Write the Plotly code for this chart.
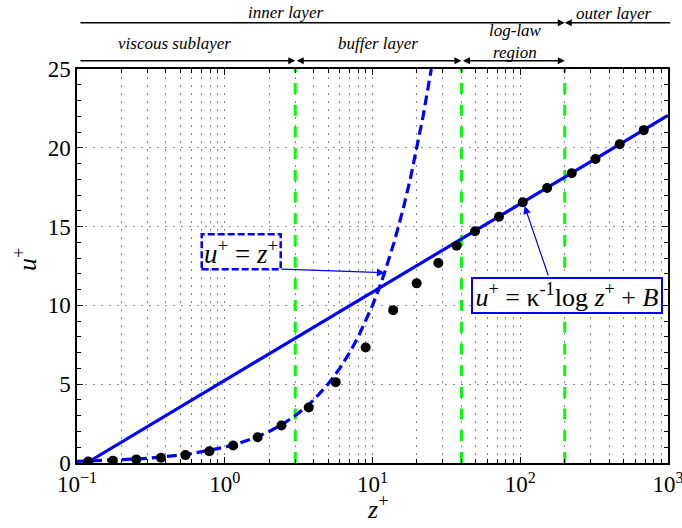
import math
import plotly.graph_objects as go

# ---------------------------------------------------------------------
# Data (wall units)
# ---------------------------------------------------------------------
# measured mean-velocity profile
z_plus = [0.119, 0.175, 0.252, 0.370, 0.542, 0.787, 1.14, 1.67, 2.42,
          3.70, 5.63, 8.99, 13.8, 19.9, 27.9, 37.1, 49.4, 71.8,
          104, 152, 223, 323, 471, 685]
u_plus = [0.09, 0.15, 0.23, 0.33, 0.50, 0.75, 1.11, 1.63, 2.38,
          3.52, 5.13, 7.33, 9.70, 11.40, 12.69, 13.79, 14.70, 15.63,
          16.54, 17.45, 18.39, 19.29, 20.23, 21.12]

# viscous sublayer law u+ = z+ (identical values on both axes)
z_visc = [0.1, 0.13, 0.16, 0.2, 0.25, 0.3, 0.4, 0.5, 0.6, 0.8, 1.0, 1.25,
          1.6, 2.0, 2.5, 3.0, 3.5, 4.0, 5.0, 6.0, 7.0, 8.0, 9.0, 10.0,
          11.0, 12.0, 14.0, 16.0, 18.0, 20.0, 22.0, 25.0]

# log law u+ = (1/kappa) log z+ + B : a straight line on the log axis
z_log = [0.116, 1000]
u_log = [0.0, 22.05]

# boundaries between the near-wall regions
z_bounds = [3, 40, 200]

# axis ticks
x_tickvals = [0.1, 1, 10, 100, 1000]
x_ticktext = ["10<sup>−1</sup>", "10<sup>0</sup>", "10<sup>1</sup>",
              "10<sup>2</sup>", "10<sup>3</sup>"]
y_tickvals = [0, 5, 10, 15, 20, 25]

X_RANGE = [-1, 3]      # log10 of z+
Y_RANGE = [0, 25]

# minor ticks at 2..9 within each decade
x_minor = [k * 10.0 ** e for e in range(X_RANGE[0], X_RANGE[1])
           for k in range(2, 10)]

# ---------------------------------------------------------------------
# Page geometry
# ---------------------------------------------------------------------
W, H = 682, 528
ML, MR, MT, MB = 77, 14, 69, 65
PW, PH = W - ML - MR, H - MT - MB

SERIF = "Liberation Serif, Times New Roman, Times, serif"
BLUE = "#0000ff"
GREEN = "#00ff00"


def px_x(px):
    """page pixel column -> paper x"""
    return (px - ML) / PW


def px_y(py):
    """page pixel row -> paper y"""
    return (MT + PH - py) / PH


def zx(z):
    """z+ value -> paper x on the log axis"""
    return (math.log10(z) - X_RANGE[0]) / (X_RANGE[1] - X_RANGE[0])


fig = go.Figure()

# region boundaries
for zb in z_bounds:
    fig.add_trace(go.Scatter(
        x=[zb, zb], y=Y_RANGE, mode="lines",
        line=dict(color=GREEN, width=3, dash="11px,10.7px"),
        hoverinfo="skip", showlegend=False))

# viscous sublayer law
fig.add_trace(go.Scatter(
    x=z_visc, y=z_visc, mode="lines",
    line=dict(color=BLUE, width=3.2, dash="10px,5px"),
    showlegend=False))

# log law
fig.add_trace(go.Scatter(
    x=z_log, y=u_log, mode="lines",
    line=dict(color=BLUE, width=3.2),
    showlegend=False))

# measured profile
fig.add_trace(go.Scatter(
    x=z_plus, y=u_plus, mode="markers",
    marker=dict(color="black", size=10),
    showlegend=False))

annotations = []
shapes = []

# ---- region arrows above the axes ----------------------------------
row1 = px_y(22.7)
row2 = px_y(60.7)
x_left = px_x(79)
x_right = px_x(671.7)


def harrow(x_tip, x_tail, y, both=False):
    annotations.append(dict(
        xref="paper", yref="paper", x=x_tip, y=y,
        axref="pixel", ayref="pixel", ax=(x_tail - x_tip) * PW, ay=0,
        text="", showarrow=True,
        arrowhead=2, arrowsize=1.0, arrowwidth=1.4, arrowcolor="black",
        arrowside="end+start" if both else "end",
        startarrowhead=2, startarrowsize=1.0, standoff=0, startstandoff=0))


b1, b2, b3 = (zx(z) for z in z_bounds)
harrow(b3, x_left, row1)
harrow(b3, x_right, row1)
harrow(b1, x_left, row2)
harrow(b2, b1, row2, both=True)
harrow(b3, b2, row2, both=True)


def label(text, x, y, size=17):
    annotations.append(dict(
        xref="paper", yref="paper", x=x, y=y, text=text, showarrow=False,
        xanchor="center", yanchor="middle",
        font=dict(family=SERIF, size=size, color="black")))


label("<i>inner layer</i>", px_x(285.5), px_y(12.5))
label("<i>outer layer</i>", px_x(613.5), px_y(13))
label("<i>viscous sublayer</i>", px_x(174), px_y(44))
label("<i>buffer layer</i>", px_x(378), px_y(44))
label("<i>log-law</i><br><i>region</i>", px_x(515), px_y(41.5))

# ---- axis titles ----------------------------------------------------
label("<i>z</i><sup>+</sup>", px_x(377), px_y(507), size=26)
annotations.append(dict(
    xref="paper", yref="paper", x=px_x(25), y=px_y(260),
    text="<i>u</i><sup>+</sup>", showarrow=False, textangle=-90,
    xanchor="center", yanchor="middle",
    font=dict(family=SERIF, size=26, color="black")))

# ---- u+ = z+ callout -------------------------------------------------
shapes.append(dict(
    type="rect", xref="paper", yref="paper", layer="above",
    x0=px_x(201.7), x1=px_x(280.7), y0=px_y(269.3), y1=px_y(234.3),
    line=dict(color=BLUE, width=2.5, dash="7px,3px"), fillcolor="white"))
annotations.append(dict(
    xref="paper", yref="paper", x=px_x(241.2), y=px_y(252),
    text="<i>u</i><sup>+</sup> = <i>z</i><sup>+</sup>", showarrow=False,
    xanchor="center", yanchor="middle",
    font=dict(family=SERIF, size=27, color="black")))
annotations.append(dict(
    xref="x", yref="y", x=math.log10(12.1), y=12.07,
    axref="x", ayref="y", ax=math.log10(2.36), ay=12.3,
    text="", showarrow=True, arrowhead=2, arrowsize=1.3, arrowwidth=1.2,
    arrowcolor=BLUE, standoff=0))

# ---- log-law callout -------------------------------------------------
annotations.append(dict(
    xref="paper", yref="paper", x=px_x(566.9), y=px_y(295.7),
    text="<i>u</i><sup>+</sup> = κ<sup>-1</sup>log <i>z</i><sup>+</sup> + <i>B</i>",
    showarrow=False, xanchor="center", yanchor="middle",
    width=186, height=31, borderpad=1, borderwidth=2, bordercolor=BLUE,
    bgcolor="white", font=dict(family=SERIF, size=26, color="black")))
annotations.append(dict(
    xref="x", yref="y", x=math.log10(107), y=16.3,
    axref="x", ayref="y", ax=math.log10(156), ay=11.8,
    text="", showarrow=True, arrowhead=2, arrowsize=1.3, arrowwidth=1.2,
    arrowcolor=BLUE, standoff=0))

GRID = dict(gridcolor="#8a8a8a", gridwidth=1, griddash="2px,6px")

fig.update_layout(
    width=W, height=H,
    margin=dict(l=ML, r=MR, t=MT, b=MB, autoexpand=False),
    paper_bgcolor="white", plot_bgcolor="white",
    font=dict(family=SERIF, size=23, color="black"),
    annotations=annotations, shapes=shapes,
    xaxis=dict(
        type="log", range=X_RANGE, automargin=False,
        tickmode="array", tickvals=x_tickvals, ticktext=x_ticktext,
        ticklabeloverflow="allow",
        showline=True, linecolor="black", linewidth=1.5, mirror="ticks",
        ticks="inside", ticklen=6, tickwidth=1, tickcolor="black",
        showgrid=True, **GRID,
        minor=dict(tickmode="array", tickvals=x_minor, ticks="inside",
                   ticklen=4, tickwidth=1, tickcolor="black",
                   showgrid=True, **GRID),
        zeroline=False, tickfont=dict(family=SERIF, size=23),
    ),
    yaxis=dict(
        range=Y_RANGE, tickmode="array", tickvals=y_tickvals,
        automargin=False,
        showline=True, linecolor="black", linewidth=1.5, mirror="ticks",
        ticks="inside", ticklen=6, tickwidth=1, tickcolor="black",
        showgrid=True, **GRID,
        minor=dict(dtick=1, ticks="inside", ticklen=4, tickwidth=1,
                   tickcolor="black", showgrid=False),
        zeroline=False, tickfont=dict(family=SERIF, size=23),
    ),
)

fig.write_html("out.html")
